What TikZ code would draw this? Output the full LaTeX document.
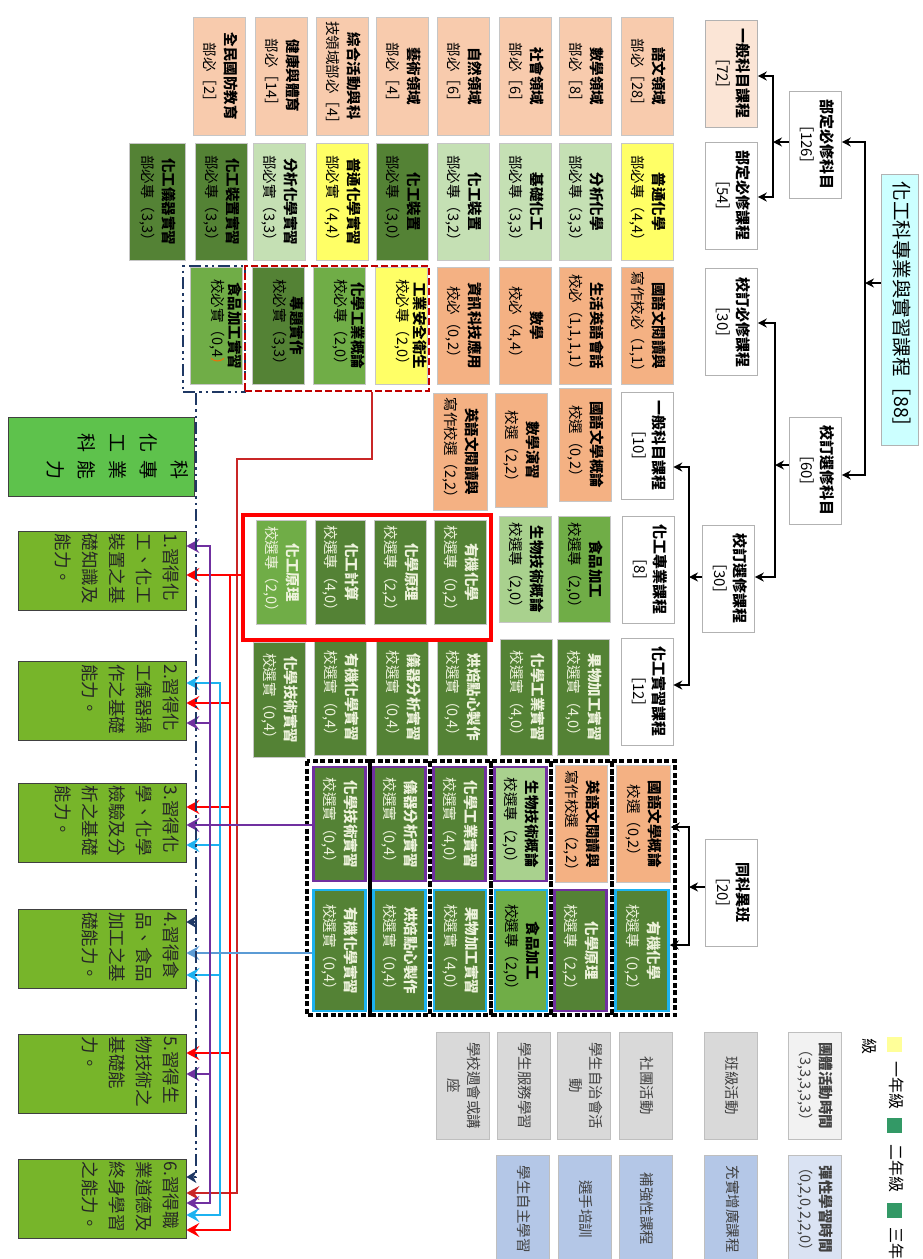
\documentclass[tikz,border=0pt]{standalone}
\usepackage{fontspec}
\setmainfont{Noto Sans CJK TC}
\usepackage{graphicx}
\usepackage{xcolor}
\usetikzlibrary{arrows.meta,calc}

\definecolor{peach}{HTML}{F8CBAD}
\definecolor{peachlt}{HTML}{FBE5D6}
\definecolor{salmon}{HTML}{F4B183}
\definecolor{yel}{HTML}{FFFF66}
\definecolor{grnlt}{HTML}{C5E0B4}
\definecolor{grnmd}{HTML}{A9D18E}
\definecolor{grnbr}{HTML}{70AD47}
\definecolor{grndk}{HTML}{548235}
\definecolor{txtlt}{HTML}{EEF3DC}
\definecolor{rootc}{HTML}{CCFFFF}
\definecolor{actgr}{HTML}{D9D9D9}
\definecolor{actlt}{HTML}{F2F2F2}
\definecolor{flexb}{HTML}{B4C7E7}
\definecolor{flexlt}{HTML}{DAE3F3}
\definecolor{compg}{HTML}{77B52A}
\definecolor{headg}{HTML}{5EC24C}
\definecolor{purp}{HTML}{7030A0}
\definecolor{lblue}{HTML}{1CB2F0}
\definecolor{sblue}{HTML}{5B9BD5}
\definecolor{navy}{HTML}{1F3864}
\definecolor{dred}{HTML}{C00000}
\definecolor{legg}{HTML}{339966}
\definecolor{legy}{HTML}{FFFF99}

% rotated text block (lines run top to bottom)
\newcommand{\vt}[2][c]{\rotatebox{-90}{\begin{tabular}{@{}#1@{}}#2\end{tabular}}}

\begin{document}
\begin{tikzpicture}[x=1pt, y=-1pt,
    cell/.style={draw=gray!45, line width=0.5pt, inner sep=0pt, minimum width=52pt, minimum height=117pt, font=\fontsize{14.5}{21}\selectfont},
    tight/.style={font=\fontsize{14.5}{17}\selectfont},
    dk/.style={fill=grndk, text=txtlt},
    pb/.style={draw=purp, line width=2.5pt},
    cb/.style={draw=lblue, line width=2.5pt},
    tbox/.style={draw=gray!60, line width=0.6pt, fill=white, inner sep=0pt, minimum width=52pt, minimum height=107pt, font=\fontsize{15}{20}\selectfont},
    act/.style={draw=gray!50, fill=actgr, inner sep=0pt, minimum width=53pt, minimum height=107pt, text=black!75, font=\fontsize{14.5}{20}\selectfont},
    comp/.style={draw=black!75, fill=compg, line width=0.8pt, inner sep=0pt, minimum width=168pt, minimum height=79pt},
    ctext/.style={inner sep=0pt, text=black!85, font=\fontsize{17.5}{27}\selectfont},
    legsq/.style={inner sep=0pt, minimum width=15pt, minimum height=15pt},
    legtx/.style={inner sep=0pt, font=\fontsize{16}{20}\selectfont},
    blkdash/.style={draw=black, line width=4pt, dash pattern=on 5pt off 2.5pt},
    tree/.style={draw=black, line width=1.8pt, -{Stealth[length=9pt,width=9pt]}},
    carr/.style={line width=2pt, -{Stealth[length=13pt,width=14pt,inset=5pt]}},
    rarr/.style={carr, draw=red},
    parr/.style={carr, draw=purp},
    larr/.style={carr, draw=lblue},
    sarr/.style={carr, draw=sblue},
    tarr/.style={draw=dred!85, line width=1.2pt, -{Stealth[length=13pt,width=14pt,inset=5pt]}},
    narr/.style={draw=navy, line width=2.5pt, dash pattern=on 12pt off 4pt on 2.5pt off 4pt on 2.5pt off 4pt, -{Stealth[length=10pt,width=12pt,inset=3pt]}}]

    \useasboundingbox (0,0) rectangle (923,1259);
    \fill[white] (0,0) rectangle (923,1259);

    % frames of the 同科異班 block
    \foreach \xa/\xb in {307/369.5, 369.5/429.5, 429.5/490.5, 490.5/551, 551/611.5, 611.5/675}
        \draw[blkdash] (\xa,761) rectangle (\xb,1015);

    % tree of the programme
    \node[tbox, fill=rootc, minimum width=37pt, minimum height=271pt, font=\fontsize{19.5}{22}\selectfont] (root) at (899.5,309.5) {\vt{化工科專業與實習課程［88］}};
    \node[tbox] (bdkm) at (815.5,144.5) {\vt{\textbf{部定必修科目}\\［126］}};
    \node[tbox] (xdxk) at (815.5,470.5) {\vt{\textbf{校訂選修科目}\\［60］}};
    \node[tbox, fill=peachlt] (ybk72) at (731.5,73.5) {\vt{\textbf{一般科目課程}\\［72］}};
    \node[tbox] (bdbx) at (731.5,195.5) {\vt{\textbf{部定必修課程}\\［54］}};
    \node[tbox] (xdbx) at (731.5,322) {\vt{\textbf{校訂必修課程}\\［30］}};
    \node[tbox] (xdxx) at (728.5,578.5) {\vt{\textbf{校訂選修課程}\\［30］}};
    \node[tbox] (ybk10) at (647,445.5) {\vt{\textbf{一般科目課程}\\［10］}};
    \node[tbox] (hgzy) at (648,569.5) {\vt{\textbf{化工專業課程}\\［8］}};
    \node[tbox] (hgsx) at (647,691.5) {\vt{\textbf{化工實習課程}\\［12］}};
    \node[tbox] (tkyb) at (731.5,892.5) {\vt{\textbf{同科異班}\\［20］}};

    % row 1
    \node[cell, fill=peach, minimum height=118pt] (yw) at (647,76) {\vt{\textbf{語文領域}\\部必［28］}};
    \node[cell, fill=peach, minimum height=118pt] (sxly) at (585.5,76) {\vt{\textbf{數學領域}\\部必［8］}};
    \node[cell, fill=peach, minimum height=118pt] (shly) at (525,76) {\vt{\textbf{社會領域}\\部必［6］}};
    \node[cell, fill=peach, minimum height=118pt] (zrly) at (463.5,76) {\vt{\textbf{自然領域}\\部必［6］}};
    \node[cell, fill=peach, minimum height=118pt] (ysly) at (402,76) {\vt{\textbf{藝術領域}\\部必［4］}};
    \node[cell, fill=peach, minimum height=118pt] (zhly) at (342,76) {\vt{\textbf{綜合活動與科}\\技領域部必［4］}};
    \node[cell, fill=peach, minimum height=118pt] (jkty) at (281,76) {\vt{\textbf{健康與體育}\\部必［14］}};
    \node[cell, fill=peach, minimum height=118pt] (qmgf) at (219.5,76) {\vt{\textbf{全民國防教育}\\部必［2］}};

    % row 2
    \node[cell, fill=yel] (pthx) at (647,201.5) {\vt{\textbf{普通化學}\\部必專（4,4）}};
    \node[cell, fill=grnlt] (fxhx) at (585.5,201.5) {\vt{\textbf{分析化學}\\部必專（3,3）}};
    \node[cell, fill=grnlt] (jchg) at (525,201.5) {\vt{\textbf{基礎化工}\\部必專（3,3）}};
    \node[cell, fill=grnlt] (hgzz) at (463.5,201.5) {\vt{\textbf{化工裝置}\\部必專（3,2）}};
    \node[cell, fill=grndk] (hgzz0) at (402,201.5) {\vt{\textbf{化工裝置}\\部必專（3,0）}};
    \node[cell, fill=yel] (pths) at (342,201.5) {\vt{\textbf{普通化學實習}\\部必實（4,4）}};
    \node[cell, fill=grnlt] (fxhs) at (279.5,201.5) {\vt{\textbf{分析化學實習}\\部必實（3,3）}};
    \node[cell, fill=grndk] (hgzs) at (221.5,201.5) {\vt{\textbf{化工裝置實習}\\部必專（3,3）}};
    \node[cell, fill=grndk, minimum width=56pt] (hgyq) at (157.5,201.5) {\vt{\textbf{化工儀器實習}\\部必專（3,3）}};

    % row 3
    \node[cell, fill=salmon] (gwyd) at (647,325.5) {\vt{\textbf{國語文閱讀與}\\寫作校必（1,1）}};
    \node[cell, fill=salmon] (shyy) at (585.5,325.5) {\vt{\textbf{生活英語會話}\\校必（1,1,1,1）}};
    \node[cell, fill=salmon] (sxbx) at (525,325.5) {\vt{\textbf{數學}\\校必（4,4）}};
    \node[cell, fill=salmon] (zxkj) at (463.5,325.5) {\vt{\textbf{資訊科技應用}\\校必（0,2）}};
    \node[cell, tight, fill=yel] (gyaq) at (401,325.5) {\vt{\textbf{工業安全衛生}\\校必專（2,0）\\ \mbox{}}};
    \node[cell, tight, fill=grnbr] (hxgy) at (339,325.5) {\vt{\textbf{化學工業概論}\\校必專（2,0）\\ \mbox{}}};
    \node[cell, tight, fill=grndk] (ztsz) at (278,325.5) {\vt{\textbf{專題實作}\\校必實（3,3）\\ \mbox{}}};
    \node[cell, tight, fill=grnbr, minimum width=51pt] (spjs) at (216.5,325.5) {\vt{\textbf{食品加工實習}\\校必實（0,4\textcolor{orange!80!red}{）}\\ \mbox{}}};

    % row 4
    \node[cell, fill=salmon, minimum height=113pt] (gwgl) at (585.5,444.5) {\vt{\textbf{國語文學概論}\\校選（0,2）}};
    \node[cell, fill=salmon, minimum height=114pt] (sxyx) at (521,450) {\vt{\textbf{數學演習}\\校選（2,2）}};
    \node[cell, fill=salmon, minimum width=54pt] (yywd) at (460,451.5) {\vt{\textbf{英語文閱讀與}\\寫作校選（2,2）}};

    % row 5
    \node[cell, fill=grnbr, minimum height=106pt] (spjg) at (584,569) {\vt{\textbf{食品加工}\\校選專（2,0）}};
    \node[cell, fill=grnmd, minimum height=106pt] (swjs) at (525,569) {\vt{\textbf{生物技術概論}\\校選專（2,0）}};
    \node[cell, dk, minimum height=104pt] (yjhx) at (460.5,572) {\vt{\textbf{有機化學}\\校選專（0,2）}};
    \node[cell, dk, minimum height=104pt] (hxyl) at (400,572) {\vt{\textbf{化學原理}\\校選專（2,2）}};
    \node[cell, dk, minimum height=104pt, minimum width=50pt] (hgjs) at (340.5,572) {\vt{\textbf{化工計算}\\校選專（4,0）}};
    \node[cell, fill=grnbr, text=txtlt, minimum height=104pt, minimum width=50pt] (hgyl) at (281,572.5) {\vt{\textbf{化工原理}\\校選專（2,0）}};

    % row 6
    \node[cell, dk, minimum height=116pt] (gwjg) at (583.5,697) {\vt{\textbf{果物加工實習}\\校選實（4,0）}};
    \node[cell, dk, minimum height=116pt] (hxgs) at (526,697) {\vt{\textbf{化學工業實習}\\校選實（4,0）}};
    \node[cell, dk, minimum height=116pt, minimum width=50pt] (hbdx) at (462,697) {\vt{\textbf{烘焙點心製作}\\校選實（0,4）}};
    \node[cell, dk, minimum height=116pt] (yqfx) at (402.5,697) {\vt{\textbf{儀器分析實習}\\校選實（0,4）}};
    \node[cell, dk, minimum height=116pt] (yjhs) at (340.5,697) {\vt{\textbf{有機化學實習}\\校選實（0,4）}};
    \node[cell, dk, minimum height=115pt] (hxjs) at (279.5,699.5) {\vt{\textbf{化學技術實習}\\校選實（0,4）}};

    % row 7 (同科異班)
    \node[cell, fill=salmon, minimum width=54pt] (tgw) at (643.5,824) {\vt{\textbf{國語文學概論}\\校選（0,2）}};
    \node[cell, fill=salmon, minimum width=52pt] (tyy) at (581,824) {\vt{\textbf{英語文閱讀與}\\寫作校選（2,2）}};
    \node[cell, pb, fill=grnmd, minimum width=52pt, minimum height=114pt] (tsw) at (520.5,824) {\vt{\textbf{生物技術概論}\\校選專（2,0）}};
    \node[cell, pb, dk, minimum width=52pt, minimum height=114pt] (thg) at (459.5,824) {\vt{\textbf{化學工業實習}\\校選實（4,0）}};
    \node[cell, pb, dk, minimum width=52pt, minimum height=114pt] (tyq) at (399.5,824) {\vt{\textbf{儀器分析實習}\\校選實（0,4）}};
    \node[cell, pb, dk, minimum width=52pt, minimum height=114pt] (thj) at (339.5,824) {\vt{\textbf{化學技術實習}\\校選實（0,4）}};

    % row 8 (同科異班)
    \node[cell, cb, dk, minimum width=53pt, minimum height=121pt] (tyj) at (642,950.5) {\vt{\textbf{有機化學}\\校選專（0,2）}};
    \node[cell, pb, dk, minimum width=52pt, minimum height=121pt] (thy) at (580.5,950.5) {\vt{\textbf{化學原理}\\校選專（2,2）}};
    \node[cell, cb, fill=grnbr, minimum width=52pt, minimum height=121pt] (tsp) at (521,950.5) {\vt{\textbf{食品加工}\\校選專（2,0）}};
    \node[cell, cb, dk, minimum width=52pt, minimum height=121pt] (tgj) at (460,950.5) {\vt{\textbf{果物加工實習}\\校選實（4,0）}};
    \node[cell, cb, dk, minimum width=52pt, minimum height=121pt] (thb) at (399.5,950.5) {\vt{\textbf{烘焙點心製作}\\校選實（0,4）}};
    \node[cell, cb, dk, minimum width=52pt, minimum height=121pt] (tys) at (339.5,950.5) {\vt{\textbf{有機化學實習}\\校選實（0,4）}};

    % group frames
    \node[draw=navy, line width=2.5pt, dash pattern=on 12pt off 4pt on 2.5pt off 4pt on 2.5pt off 4pt, inner sep=0pt, minimum width=62pt, minimum height=126pt] (bgrp) at (214,329) {};
    \node[draw=dred, line width=2.5pt, dash pattern=on 7pt off 3pt, inner sep=0pt, minimum width=184pt, minimum height=125pt] (rdg) at (337,328.5) {};
    \node[draw=red, line width=3.5pt, inner sep=0pt, minimum width=248pt, minimum height=125pt] (rsg) at (367,577.5) {};

    % activities
    \node[act, fill=actlt] (ttsj) at (814.5,1085.5) {\vt{\textbf{團體活動時間}\\（3,3,3,3,3）}};
    \node[act] (bjhd) at (730.5,1085.5) {\vt{班級活動}};
    \node[act] (sthd) at (645.5,1085.5) {\vt{社團活動}};
    \node[act] (xszz) at (584,1085.5) {\vt{學生自治會活\\動}};
    \node[act] (xsfw) at (523.5,1085.5) {\vt{學生服務學習}};
    \node[act] (xxzh) at (462.5,1085.5) {\vt{學校週會或講\\座}};
    \node[act, fill=flexlt] (txsj) at (814.5,1209) {\vt{\textbf{彈性學習時間}\\（0,2,0,2,2,0）}};
    \node[act, fill=flexb] (csz) at (731,1209) {\vt{充實增廣課程}};
    \node[act, fill=flexb] (bqx) at (645.5,1209) {\vt{補強性課程}};
    \node[act, fill=flexb] (xspx) at (584.5,1209) {\vt{選手培訓}};
    \node[act, fill=flexb] (xszx) at (522.5,1209) {\vt{學生自主學習}};

    % legend
    \node[legsq, fill=legy] (ly1) at (894.5,1044.5) {};
    \node[legtx] (lt1) at (894.5,1085) {\vt{一年級}};
    \node[legsq, fill=legg] (lg2) at (894.5,1125) {};
    \node[legtx] (lt2) at (894.5,1168) {\vt{二年級}};
    \node[legsq, fill=legg] (lg3) at (894.5,1210) {};
    \node[legtx, anchor=north] (lt3) at (894.5,1227) {\vt{三年}};
    \node[legtx] (lt4) at (867,1046) {\vt{級}};

    % competences
    \node[draw=black!75, fill=headg, line width=0.8pt, inner sep=0pt, minimum width=166pt, minimum height=79pt, font=\fontsize{19}{31}\selectfont] (head) at (101,456.5)
        {\rotatebox{-90}{\setlength{\tabcolsep}{4pt}\begin{tabular}{@{}cc@{}} & 科\\ 化 & 專\\ 工 & 業\\ 科 & 能\\ & 力\\ & \end{tabular}}};
    \node[comp] (comp1) at (102,570.5) {};
    \node[comp] (comp2) at (102,701) {};
    \node[comp] (comp3) at (102,822.5) {};
    \node[comp] (comp4) at (102,949) {};
    \node[comp] (comp5) at (102,1073.5) {};
    \node[comp] (comp6) at (102,1198.5) {};
    \node[ctext, anchor=north east] (comp1t) at ([xshift=-3pt,yshift=-3pt]comp1.north east) {\vt[l]{1.習得化\\工、化工\\裝置之基\\礎知識及\\能力。}};
    \node[ctext, anchor=north east] (comp2t) at ([xshift=-3pt,yshift=-3pt]comp2.north east) {\vt[l]{2.習得化\\工儀器操\\作之基礎\\能力。}};
    \node[ctext, anchor=north east] (comp3t) at ([xshift=-3pt,yshift=-3pt]comp3.north east) {\vt[l]{3.習得化\\學、化學\\檢驗及分\\析之基礎\\能力。}};
    \node[ctext, anchor=north east] (comp4t) at ([xshift=-3pt,yshift=-3pt]comp4.north east) {\vt[l]{4.習得食\\品、食品\\加工之基\\礎能力。}};
    \node[ctext, anchor=north east] (comp5t) at ([xshift=-3pt,yshift=-3pt]comp5.north east) {\vt[l]{5.習得生\\物技術之\\基礎能\\力。}};
    \node[ctext, anchor=north east] (comp6t) at ([xshift=-3pt,yshift=-3pt]comp6.north east) {\vt[l]{6.習得職\\業道德及\\終身學習\\之能力。}};

    % tree connectors
    \coordinate (j0) at (865,283);
    \coordinate (j1) at (773,142);
    \coordinate (j2) at (775,465);
    \coordinate (j3) at (689,577);
    \coordinate (j4) at (689,887);
    \draw[tree] (root.west |- j0) -- (j0);
    \draw[tree] (j0) -- (865,142) -- (bdkm.east |- 0,142);
    \draw[tree] (j0) -- (865,475) -- (xdxk.east |- 0,475);
    \draw[tree] (bdkm.west |- j1) -- (j1);
    \draw[tree] (j1) -- (773,76) -- (ybk72.east |- 0,76);
    \draw[tree] (j1) -- (773,197) -- (bdbx.east |- 0,197);
    \draw[tree] (xdxk.west |- j2) -- (j2);
    \draw[tree] (j2) -- (775,323) -- (xdbx.east |- 0,323);
    \draw[tree] (j2) -- (775,577) -- (xdxx.east |- 0,577);
    \draw[tree] (xdxx.west |- j3) -- (j3);
    \draw[tree] (j3) -- (689,467) -- (ybk10.east |- 0,467);
    \draw[tree] (j3) -- (689,685) -- (hgsx.east |- 0,685);
    \draw[tree] (tkyb.west |- j4) -- (j4);
    \draw[tree] (j4) -- (689,827) -- (tgw.east |- 0,827);
    \draw[tree] (j4) -- (689,945) -- (tyj.east |- 0,945);

    % course groups to competences
    \coordinate (tj) at (372,459);
    \draw[tarr] (rdg.south -| tj) -- (tj) -- (237,459) -- (237,1193) -- (comp6.east |- 0,1193);

    \coordinate (rj) at (230,575);
    \draw[rarr] (rsg.west |- rj) -- (rj -| comp1.east);
    \foreach \tgt/\yy in {comp2/703, comp3/807, comp5/1053, comp6/1230}
        \draw[rarr] (rj) -- (230,\yy) -- (\tgt.east |- 0,\yy);

    \coordinate (lj) at (220,953);
    \foreach \tgt/\yy in {comp2/683, comp3/845, comp4/975, comp6/1215}
        \draw[larr] (lj) -- (220,\yy) -- (\tgt.east |- 0,\yy);
    \draw[sarr] (tys.west |- lj) -- (lj -| comp4.east);

    \coordinate (pj) at (210,825);
    \draw[parr] (thj.west |- pj) -- (pj -| comp3.east);
    \foreach \tgt/\yy in {comp1/546, comp2/723, comp5/1074, comp6/1203}
        \draw[parr] (pj) -- (210,\yy) -- (\tgt.east |- 0,\yy);

    \coordinate (nj) at (196,922);
    \draw[narr] (bgrp.south -| nj) -- (nj) -- (nj -| comp4.east);
    \draw[narr] (nj) -- (196,1177) -- (comp6.east |- 0,1177);
\end{tikzpicture}
\end{document}
